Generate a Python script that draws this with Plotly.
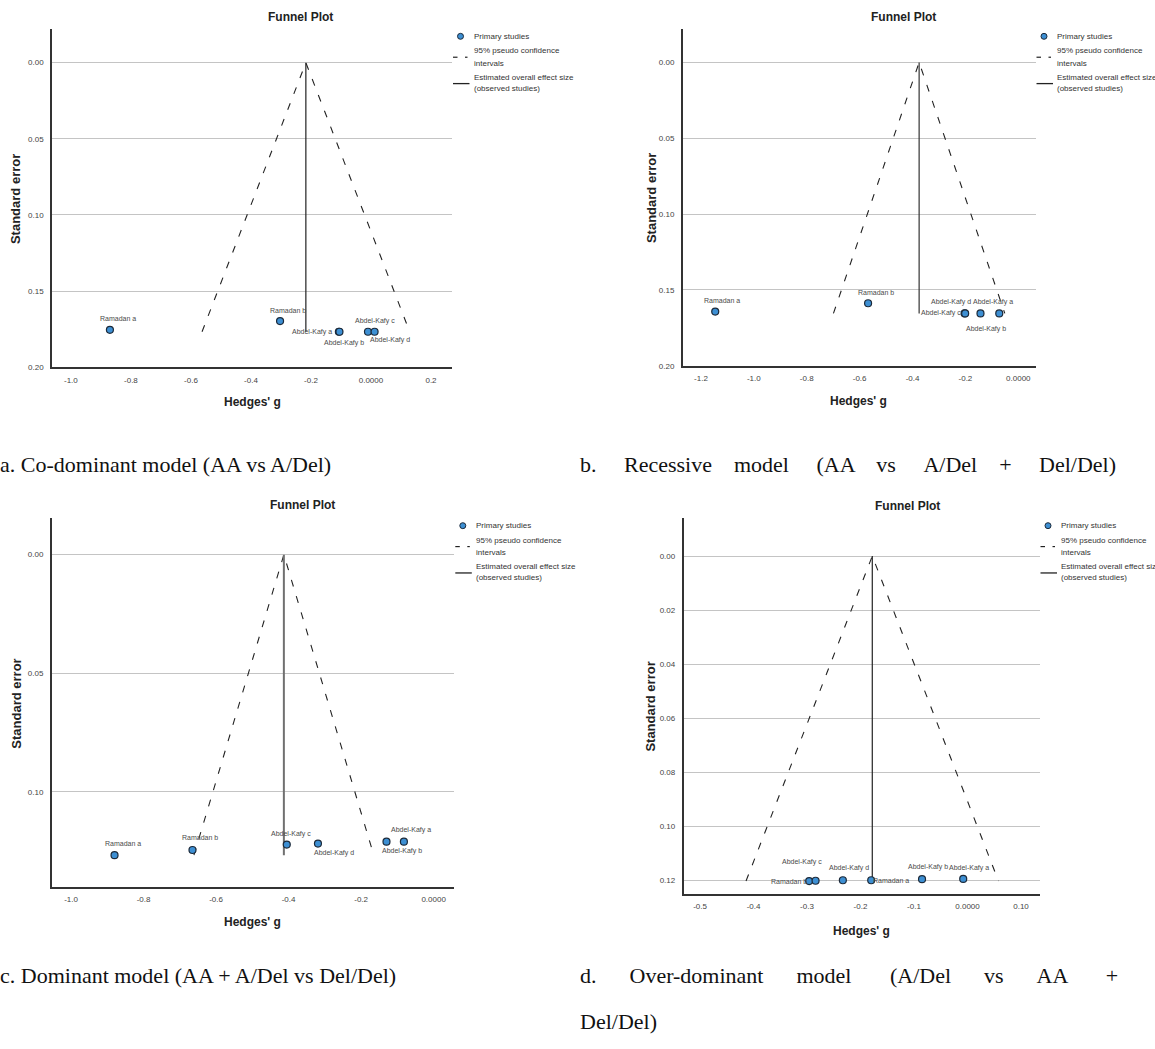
import plotly.graph_objects as go

W, H = 1155, 1049

# ---------------- data ----------------
studies_a = ["Ramadan a", "Ramadan b", "Abdel-Kafy a", "Abdel-Kafy b", "Abdel-Kafy c", "Abdel-Kafy d"]
hedges_a = [-0.870, -0.303, -0.107, -0.105, -0.010, 0.012]
se_a = [0.1754, 0.1697, 0.1767, 0.1767, 0.1767, 0.1767]
pooled_a = -0.217
funnel_x_a = [-0.563, -0.217, 0.129]
funnel_se_a = [0.1767, 0.0, 0.1767]

studies_b = ["Ramadan a", "Ramadan b", "Abdel-Kafy c", "Abdel-Kafy d", "Abdel-Kafy b", "Abdel-Kafy a"]
hedges_b = [-1.146, -0.568, -0.203, -0.201, -0.143, -0.072]
se_b = [0.1643, 0.1588, 0.1655, 0.1655, 0.1655, 0.1655]
pooled_b = -0.375
funnel_x_b = [-0.699, -0.375, -0.051]
funnel_se_b = [0.1655, 0.0, 0.1655]

studies_c = ["Ramadan a", "Ramadan b", "Abdel-Kafy c", "Abdel-Kafy d", "Abdel-Kafy b", "Abdel-Kafy a"]
hedges_c = [-0.880, -0.665, -0.405, -0.319, -0.130, -0.082]
se_c = [0.1267, 0.1245, 0.1222, 0.1218, 0.1210, 0.1210]
pooled_c = -0.413
funnel_x_c = [-0.661, -0.413, -0.165]
funnel_se_c = [0.1267, 0.0, 0.1267]

studies_d = ["Ramadan b", "Abdel-Kafy c", "Abdel-Kafy d", "Ramadan a", "Abdel-Kafy b", "Abdel-Kafy a"]
hedges_d = [-0.296, -0.284, -0.233, -0.180, -0.085, -0.008]
se_d = [0.1202, 0.1201, 0.1199, 0.1199, 0.1195, 0.1194]
pooled_d = -0.178
funnel_x_d = [-0.414, -0.178, 0.058]
funnel_se_d = [0.1202, 0.0, 0.1202]

xticks_a = [-1.0, -0.8, -0.6, -0.4, -0.2, 0.0, 0.2]
xticklabels_a = ["-1.0", "-0.8", "-0.6", "-0.4", "-0.2", "0.0000", "0.2"]
xticks_b = [-1.2, -1.0, -0.8, -0.6, -0.4, -0.2, 0.0]
xticklabels_b = ["-1.2", "-1.0", "-0.8", "-0.6", "-0.4", "-0.2", "0.0000"]
xticks_c = [-1.0, -0.8, -0.6, -0.4, -0.2, 0.0]
xticklabels_c = ["-1.0", "-0.8", "-0.6", "-0.4", "-0.2", "0.0000"]
xticks_d = [-0.5, -0.4, -0.3, -0.2, -0.1, 0.0, 0.1]
xticklabels_d = ["-0.5", "-0.4", "-0.3", "-0.2", "-0.1", "0.0000", "0.10"]

yticks_ab = [0.00, 0.05, 0.10, 0.15, 0.20]
yticklabels_ab = ["0.00", "0.05", "0.10", "0.15", "0.20"]
yticks_c = [0.00, 0.05, 0.10]
yticklabels_c = ["0.00", "0.05", "0.10"]
yticks_d = [0.00, 0.02, 0.04, 0.06, 0.08, 0.10, 0.12]
yticklabels_d = ["0.00", "0.02", "0.04", "0.06", "0.08", "0.10", "0.12"]

caption_words = [
    ["a.", "Co-dominant", "model", "(AA", "vs", "A/Del)"],
    ["b.", "Recessive", "model", "(AA", "vs", "A/Del", "+", "Del/Del)"],
    ["c.", "Dominant", "model", "(AA", "+", "A/Del", "vs", "Del/Del)"],
    ["d.", "Over-dominant", "model", "(A/Del", "vs", "AA", "+"],
    ["Del/Del)"],
]

# ---------------- styles ----------------
# label offsets (dx, dy) in pixels from each point to the centre of its label
labeloff_a = [(8, -11), (8, -11), (-27, 0), (5, 11), (7, -11), (15, 8)]
labeloff_b = [(7, -11), (8, -11), (-24, 0), (-14, -11), (6, 16), (-6, -11)]
labeloff_c = [(8, -12), (8, -12), (4, -11), (16, 9), (16, 9), (7, -12)]
labeloff_d = [(-20, 0), (-14, -19), (6, -12), (20, 0), (6, -12), (6, -11)]
# extra non-breaking spaces per word gap (justified caption lines)
caption_gaps = [
    [0, 0, 0, 0, 0],
    [4, 3, 4, 3, 4, 3, 4],
    [0, 0, 0, 0, 0, 0, 0],
    [5, 5, 6, 5, 5, 6],
    [],
]
caption_pos = [(-2, 467), (578, 467), (-2, 980), (578, 980), (578, 1026)]

SANS = "Liberation Sans, Arial, sans-serif"
SERIF = "Liberation Serif, Times New Roman, serif"
DOT_FILL = "#3d8fd3"
DOT_LINE = "#1c2a3a"

panels = [
    dict(box=(52, 452, 29, 369), xr=[-1.063, 0.270], yr=[0.20, -0.0222],
         studies=studies_a, hx=hedges_a, se=se_a, pooled=pooled_a, fx=funnel_x_a, fse=funnel_se_a,
         xt=xticks_a, xtl=xticklabels_a, yt=yticks_ab, ytl=yticklabels_ab, lo=labeloff_a,
         title=(300, 17), xtitle=(252, 404), ytitle=(15, 200), meancol="#222", meanw=1.2),
    dict(box=(682.7, 1035.5, 29, 367.5), xr=[-1.269, 0.065], yr=[0.20, -0.0221],
         studies=studies_b, hx=hedges_b, se=se_b, pooled=pooled_b, fx=funnel_x_b, fse=funnel_se_b,
         xt=xticks_b, xtl=xticklabels_b, yt=yticks_ab, ytl=yticklabels_ab, lo=labeloff_b,
         title=(903, 17), xtitle=(858, 403), ytitle=(651, 199), meancol="#333", meanw=1.2),
    dict(box=(51.8, 454.3, 520.7, 891), xr=[-1.053, 0.057], yr=[0.140, -0.01535],
         studies=studies_c, hx=hedges_c, se=se_c, pooled=pooled_c, fx=funnel_x_c, fse=funnel_se_c,
         xt=xticks_c, xtl=xticklabels_c, yt=yticks_c, ytl=yticklabels_c, lo=labeloff_c,
         title=(302.6, 507), xtitle=(252, 926), ytitle=(17, 707), meancol="#707070", meanw=2),
    dict(box=(683.6, 1039.5, 520.7, 898.3), xr=[-0.5307, 0.1346], yr=[0.125, -0.014],
         studies=studies_d, hx=hedges_d, se=se_d, pooled=pooled_d, fx=funnel_x_d, fse=funnel_se_d,
         xt=xticks_d, xtl=xticklabels_d, yt=yticks_d, ytl=yticklabels_d, lo=labeloff_d,
         title=(907, 508), xtitle=(861, 935), ytitle=(651, 710), meancol="#222", meanw=1.2),
]


def px(xp):
    return xp / W


def py(yp):
    return 1 - yp / H


fig = go.Figure()
shapes = []
annotations = []
layout_axes = {}

for i, p in enumerate(panels):
    n = "" if i == 0 else str(i + 1)
    xa, ya = "x" + n, "y" + n
    L, R, T, B = p["box"]

    # funnel (95% pseudo confidence limits)
    fig.add_trace(go.Scatter(
        x=p["fx"], y=p["fse"], xaxis=xa, yaxis=ya, mode="lines",
        line=dict(color="#222", width=1.1, dash="7px,10px"),
        showlegend=False, hoverinfo="skip"))
    # pooled effect
    fig.add_trace(go.Scatter(
        x=[p["pooled"], p["pooled"]], y=[0, max(p["se"])], xaxis=xa, yaxis=ya, mode="lines",
        line=dict(color=p["meancol"], width=p["meanw"]),
        showlegend=False, hoverinfo="skip"))
    # studies
    fig.add_trace(go.Scatter(
        x=p["hx"], y=p["se"], xaxis=xa, yaxis=ya, mode="markers",
        marker=dict(size=7, color=DOT_FILL, line=dict(color=DOT_LINE, width=1.2)),
        text=p["studies"], showlegend=False))
    for name, xv, yv, (dx, dy) in zip(p["studies"], p["hx"], p["se"], p["lo"]):
        annotations.append(dict(text=name, x=xv, y=yv, xref=xa, yref=ya, showarrow=False,
                                xanchor="center", yanchor="middle", xshift=dx, yshift=-dy,
                                font=dict(family=SANS, size=7, color="#4a4a4a")))

    layout_axes["xaxis" + n] = dict(
        domain=[px(L), px(R)], range=p["xr"], anchor=ya,
        tickvals=p["xt"], ticktext=p["xtl"], ticks="", ticklabelstandoff=4,
        tickfont=dict(family=SANS, size=8, color="#444"),
        showgrid=False, zeroline=False, showline=True, linecolor="#333", linewidth=1.5)
    layout_axes["yaxis" + n] = dict(
        domain=[py(B), py(T)], range=p["yr"], anchor=xa,
        tickvals=p["yt"], ticktext=p["ytl"], ticks="", ticklabelstandoff=5,
        tickfont=dict(family=SANS, size=8, color="#444"),
        showgrid=True, gridcolor="#c4c4c4", gridwidth=1,
        zeroline=False, showline=True, linecolor="#333", linewidth=1.5)

    # titles
    annotations.append(dict(text="<b>Funnel Plot</b>", x=px(p["title"][0]), y=py(p["title"][1]),
                            xref="paper", yref="paper", showarrow=False, xanchor="center", yanchor="middle",
                            font=dict(family=SANS, size=12, color="#222")))
    annotations.append(dict(text="<b>Hedges' g</b>", x=px(p["xtitle"][0]), y=py(p["xtitle"][1]),
                            xref="paper", yref="paper", showarrow=False, xanchor="center", yanchor="middle",
                            font=dict(family=SANS, size=12, color="#222")))
    annotations.append(dict(text="<b>Standard error</b>", x=px(p["ytitle"][0]), y=py(p["ytitle"][1]),
                            xref="paper", yref="paper", showarrow=False, xanchor="center", yanchor="middle",
                            textangle=-90, font=dict(family=SANS, size=13, color="#222")))

    # legend (drawn beside the plot)
    dot_x, dot_y = R + 8.5, T + 7.5
    shapes.append(dict(type="circle", xref="paper", yref="paper",
                       x0=px(dot_x - 3), x1=px(dot_x + 3), y0=py(dot_y + 3), y1=py(dot_y - 3),
                       fillcolor=DOT_FILL, line=dict(color=DOT_LINE, width=1)))
    dash_y = T + 28.5
    for a0, a1 in [(1, 5.5), (13, 15.5)]:
        shapes.append(dict(type="line", xref="paper", yref="paper",
                           x0=px(R + a0), x1=px(R + a1), y0=py(dash_y), y1=py(dash_y),
                           line=dict(color="#222", width=1.2)))
    sol_y = T + 55
    shapes.append(dict(type="line", xref="paper", yref="paper",
                       x0=px(R + 1), x1=px(R + 17.5), y0=py(sol_y), y1=py(sol_y),
                       line=dict(color="#222", width=1.3)))
    leg_lines = [("Primary studies", 7.5), ("95% pseudo confidence", 22), ("intervals", 34.5),
                 ("Estimated overall effect size", 48.5), ("(observed studies)", 60)]
    for txt, off in leg_lines:
        annotations.append(dict(text=txt, x=px(R + 19.5), y=py(T + off), xref="paper", yref="paper",
                                showarrow=False, xanchor="left", yanchor="middle",
                                font=dict(family=SANS, size=8, color="#333")))

# captions (justified lines get wider word gaps)
NBSP = "\u00a0"
for words, gaps, (cx, cy) in zip(caption_words, caption_gaps, caption_pos):
    txt = words[0]
    for w, g in zip(words[1:], gaps):
        txt += " " + NBSP * g + w
    annotations.append(dict(text=txt, x=px(cx), y=py(cy), xref="paper", yref="paper",
                            showarrow=False, xanchor="left", yanchor="middle",
                            font=dict(family=SERIF, size=22, color="#111")))

fig.update_layout(
    width=W, height=H, margin=dict(l=0, r=0, t=0, b=0),
    paper_bgcolor="white", plot_bgcolor="white",
    showlegend=False, shapes=shapes, annotations=annotations,
    **layout_axes)

fig.write_html("out.html", config={"displayModeBar": False},
               post_script="document.body.style.margin='0px';")
